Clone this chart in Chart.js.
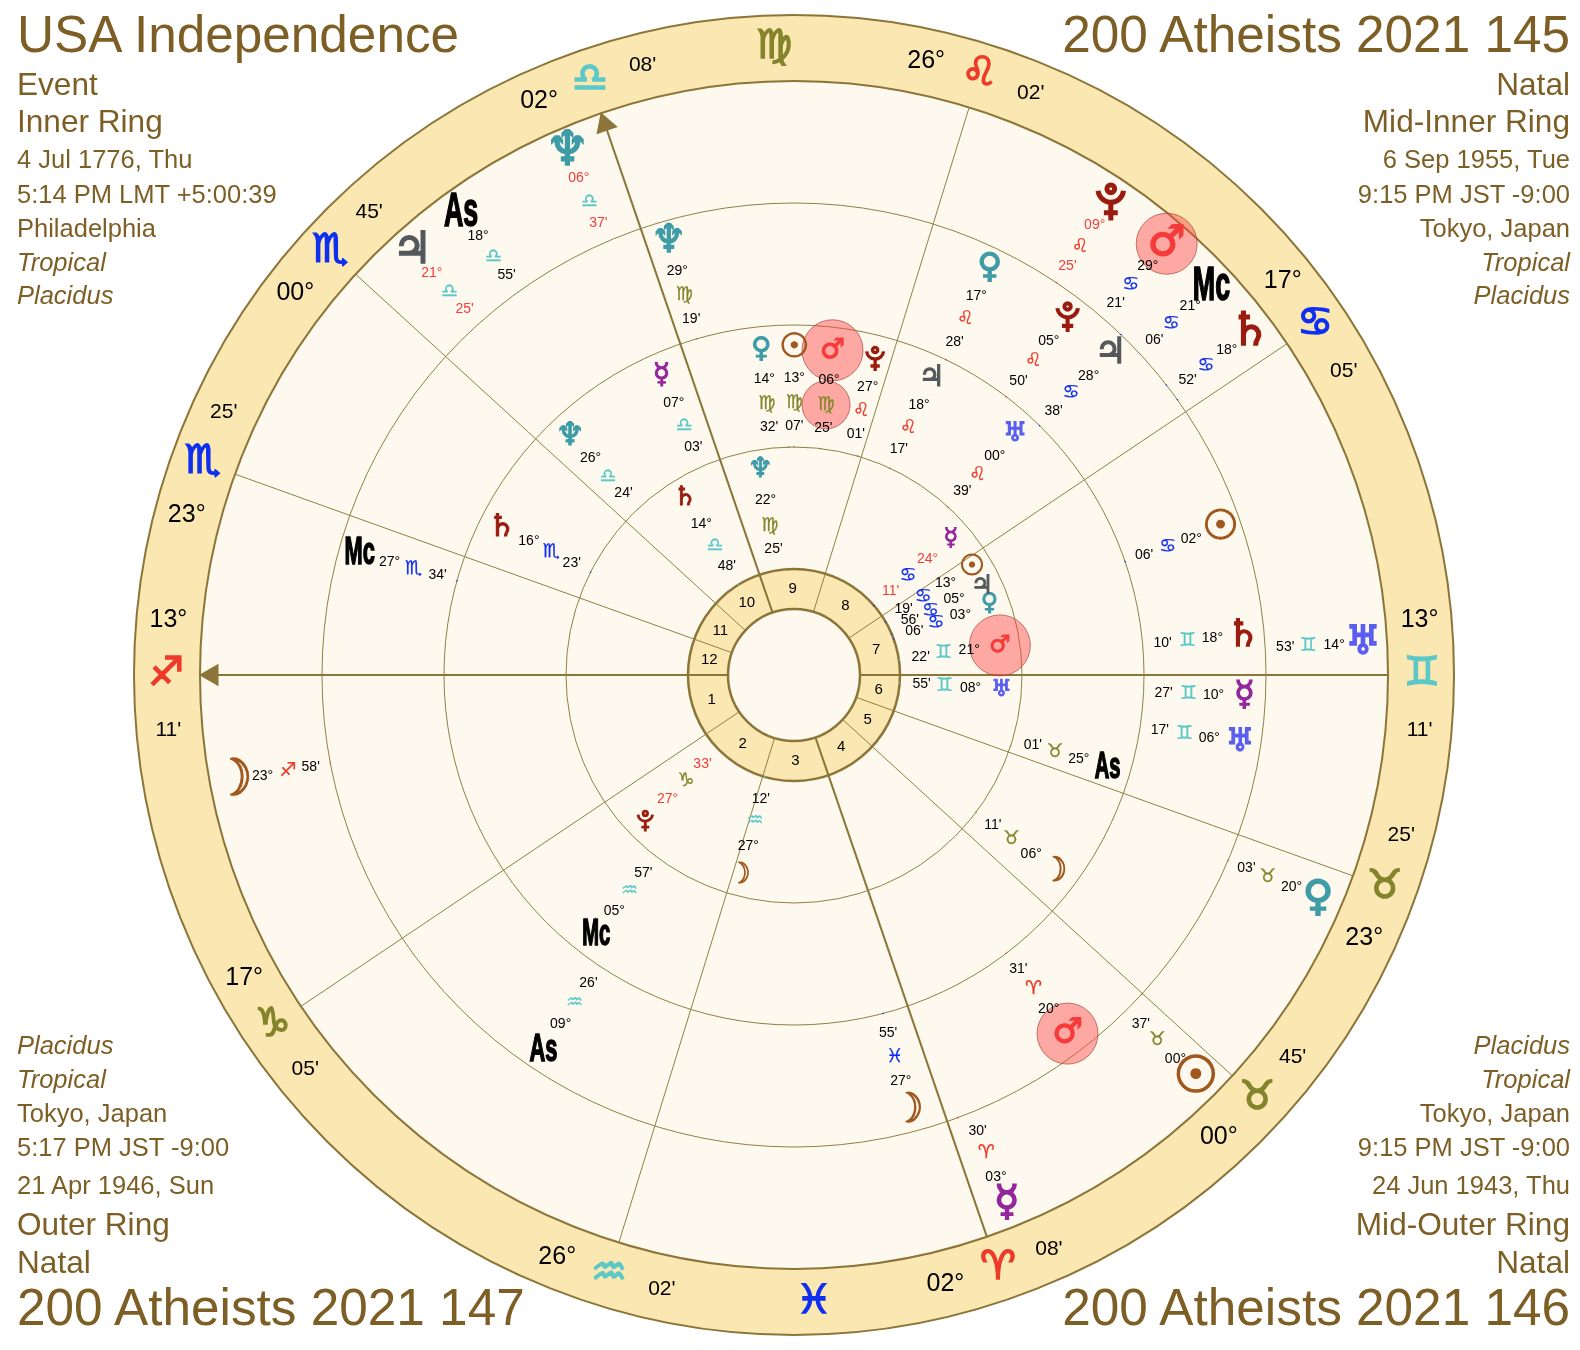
<!DOCTYPE html>
<html>
<head>
<meta charset="utf-8">
<title>USA Independence</title>
<script src="https://cdn.jsdelivr.net/npm/chart.js@4"></script>
<style>
  html, body { margin: 0; background: #fff; }
  #wrap { position: relative; width: 1580px; height: 1350px; overflow: hidden; }
  canvas { position: absolute; left: 0; top: 0; }
  .corner { position: absolute; line-height: 1; white-space: nowrap; color: #7d5f25; font-family: "Liberation Sans", sans-serif; }
</style>
</head>
<body>
<div id="wrap"><canvas id="wheel" width="1580" height="1350"></canvas></div>
<script>
// corner captions
const topLeftLines = ["USA Independence", "Event", "Inner Ring", "4 Jul 1776, Thu", "5:14 PM LMT +5:00:39", "Philadelphia", "Tropical", "Placidus"];
const topRightLines = ["200 Atheists 2021 145", "Natal", "Mid-Inner Ring", "6 Sep 1955, Tue", "9:15 PM JST -9:00", "Tokyo, Japan", "Tropical", "Placidus"];
const bottomLeftLines = ["Placidus", "Tropical", "Tokyo, Japan", "5:17 PM JST -9:00", "21 Apr 1946, Sun", "Outer Ring", "Natal", "200 Atheists 2021 147"];
const bottomRightLines = ["Placidus", "Tropical", "Tokyo, Japan", "9:15 PM JST -9:00", "24 Jun 1943, Thu", "Mid-Outer Ring", "Natal", "200 Atheists 2021 146"];

// house cusps 1..12
const cuspSigns = ["Sg", "Cp", "Aq", "Ar", "Ta", "Ta", "Gm", "Cn", "Le", "Li", "Sc", "Sc"];
const cuspDegrees = [13, 17, 26, 2, 0, 23, 13, 17, 26, 2, 0, 23];
const cuspMinutes = [11, 5, 2, 8, 45, 25, 11, 5, 2, 8, 45, 25];

// signs with no cusp in them, shown in the middle of the sign
const interceptedSigns = ["Vi", "Pi"];

// inner ring, USA Independence
const innerBodies = ["Su", "Mo", "Me", "Ve", "Ma", "Ju", "Sa", "Ur", "Ne", "Pl"];
const innerSigns = ["Cn", "Aq", "Cn", "Cn", "Gm", "Cn", "Li", "Gm", "Vi", "Cp"];
const innerDegrees = [13, 27, 24, 3, 21, 5, 14, 8, 22, 27];
const innerMinutes = [19, 12, 11, 6, 22, 56, 48, 55, 25, 33];
const innerRetro = ["Me", "Pl"];
const innerNudge = [1, 1, 0, 0, 0, 2.5, 0, 0, 0, 0];

// mid-inner ring, 6 Sep 1955
const midInnerBodies = ["Su", "Mo", "Me", "Ve", "Ma", "Ju", "Sa", "Ur", "Ne", "Pl", "Mc", "As"];
const midInnerSigns = ["Vi", "Ta", "Li", "Vi", "Vi", "Le", "Sc", "Le", "Li", "Le", "Aq", "Ta"];
const midInnerDegrees = [13, 6, 7, 14, 6, 18, 16, 0, 26, 27, 5, 25];
const midInnerMinutes = [7, 11, 3, 32, 25, 17, 23, 39, 24, 1, 57, 1];
const midInnerRetro = [];
const midInnerNudge = [0, 0, 0, 4.4, 0, 0, 0, 0, 0, 1.8, 0, 1.7];

// mid-outer ring, 24 Jun 1943
const midOuterBodies = ["Su", "Mo", "Me", "Ve", "Ma", "Ju", "Sa", "Ur", "Ne", "Pl", "Mc", "As"];
const midOuterSigns = ["Cn", "Pi", "Gm", "Le", "Ar", "Cn", "Gm", "Gm", "Vi", "Le", "Sc", "Aq"];
const midOuterDegrees = [2, 27, 10, 17, 20, 28, 18, 6, 29, 5, 27, 9];
const midOuterMinutes = [6, 55, 27, 28, 31, 38, 10, 17, 19, 50, 34, 26];
const midOuterRetro = [];
const midOuterNudge = [0, 0, 0, 0, 0, 0, 0, -1.7, 0, 0, 0, 0];

// outer ring, 21 Apr 1946
const outerBodies = ["Su", "Mo", "Me", "Ve", "Ma", "Ju", "Sa", "Ur", "Ne", "Pl", "Mc", "As"];
const outerSigns = ["Ta", "Sg", "Ar", "Ta", "Cn", "Li", "Cn", "Gm", "Li", "Le", "Cn", "Li"];
const outerDegrees = [0, 23, 3, 20, 29, 21, 18, 14, 6, 9, 21, 18];
const outerMinutes = [37, 58, 30, 3, 21, 25, 52, 53, 37, 25, 6, 55];
const outerRetro = ["Ju", "Ne", "Pl"];
const outerNudge = [-2.6, 0, 1.6, 0, 3, 3.8, 1.2, 1.5, 0, 0, 5, 0];

const signOrder = ["Ar", "Ta", "Gm", "Cn", "Le", "Vi", "Li", "Sc", "Sg", "Cp", "Aq", "Pi"];
const signGlyphs = { Ar: "\u2648", Ta: "\u2649", Gm: "\u264A", Cn: "\u264B", Le: "\u264C", Vi: "\u264D", Li: "\u264E", Sc: "\u264F", Sg: "\u2650", Cp: "\u2651", Aq: "\u2652", Pi: "\u2653" };
const signColors = { Ar: "#ee3a2a", Ta: "#84842c", Gm: "#5cc8c8", Cn: "#1030f0", Le: "#ee3a2a", Vi: "#84842c", Li: "#5cc8c8", Sc: "#1030f0", Sg: "#ee3a2a", Cp: "#84842c", Aq: "#5cc8c8", Pi: "#1030f0" };
const bodyGlyphs = { Su: "\u2609", Mo: "\u263D", Me: "\u263F", Ve: "\u2640", Ma: "\u2642", Ju: "\u2643", Sa: "\u2644", Ur: "\u2645", Ne: "\u2646", Pl: "\u2647", Mc: "Mc", As: "As" };
const bodyColors = { Su: "#a0581e", Mo: "#a0581e", Me: "#93279b", Ve: "#3f9ca7", Ma: "#f53b3b", Ju: "#55585c", Sa: "#9a1c10", Ur: "#5a5ff0", Ne: "#3f9ca7", Pl: "#9a1c10", Mc: "#000", As: "#000" };
const bodyScale = { Su: 1.2, Mo: 1.2, Me: 1, Ve: 1, Ma: 1, Ju: 1.05, Sa: 1.1, Ur: 0.95, Ne: 1.15, Pl: 1 };

const RING_LINE = "#8f8143";
const GOLD = "#8b7538";
const BAND = "#fbe7b1";
const PAPER = "#fef9ee";
const RETRO_RED = "#f53b3b";
const SYMBOL_FONT = "'DejaVu Sans'";
const TEXT_FONT = "'Liberation Sans'";

const ascendant = longitude("Sg", 13, 11);

function longitude(sign, deg, min) {
  return signOrder.indexOf(sign) * 30 + deg + min / 60;
}

// wheel angle in degrees, counter-clockwise from the right, ascendant on the left
function wheelAngle(lon) {
  return ((180 + lon - ascendant) % 360 + 360) % 360;
}

function polar(r, angle) {
  const a = (angle * Math.PI) / 180;
  return { x: r * Math.cos(a), y: r * Math.sin(a) };
}

const symbol = (s) => s + "\uFE0E";
const textMarks = [];
const tickMarks = [];
const haloMarks = [];

function addText(r, angle, text, color, font, extra) {
  textMarks.push({ ...polar(r, angle), text, color, font, ...extra });
}

function addRing(layout, bodies, signs, degrees, minutes, retro, nudge) {
  bodies.forEach((body, i) => {
    const trueAngle = wheelAngle(longitude(signs[i], degrees[i], minutes[i]));
    const angle = trueAngle + nudge[i];
    const labelColor = retro.includes(body) ? RETRO_RED : "#000";
    if (body === "Ma") {
      haloMarks.push({ ...polar(layout.glyph, angle), size: 30.5 });
      if (layout.signHalo) haloMarks.push({ ...polar(layout.sign, angle), size: 24 });
    }
    if (body === "Mc" || body === "As") {
      // tall squeezed lettering
      addText(layout.glyph, angle, bodyGlyphs[body], bodyColors[body], `bold ${layout.angleSize}px ${TEXT_FONT}`,
        { squeeze: 0.56, stroke: 1.6 });
    } else if (body === "Pl") {
      // the orb-and-cup pluto isn't in any installed font
      addText(layout.glyph, angle, "", bodyColors[body], "", { plutoSize: layout.glyphSize * 0.92 });
    } else {
      // bold neptune and jupiter clog up, the regular cut reads closer
      const weight = body === "Ne" || body === "Ju" ? "" : "bold ";
      addText(layout.glyph, angle, symbol(bodyGlyphs[body]), bodyColors[body],
        `${weight}${layout.glyphSize * bodyScale[body]}px ${SYMBOL_FONT}`,
        { stroke: layout.glyphSize * 0.04, squeeze: body === "Mo" ? 0.78 : 1 });
    }
    addText(layout.deg, angle, String(degrees[i]).padStart(2, "0") + "°", labelColor, `14px ${TEXT_FONT}`);
    addText(layout.sign, angle, symbol(signGlyphs[signs[i]]), signColors[signs[i]], `bold 19px ${SYMBOL_FONT}`, { stroke: 0.3 });
    addText(layout.min, angle, String(minutes[i]).padStart(2, "0") + "'", labelColor, `14px ${TEXT_FONT}`);
    tickMarks.push({ ...polar(layout.edge, trueAngle), color: signColors[signs[i]] });
  });
}

addRing({ glyph: 208, deg: 177, sign: 151, min: 128, edge: 106, glyphSize: 24 },
  innerBodies, innerSigns, innerDegrees, innerMinutes, innerRetro, innerNudge);
addRing({ glyph: 327, deg: 297, sign: 272, min: 249, edge: 228, glyphSize: 28, angleSize: 36, signHalo: true },
  midInnerBodies, midInnerSigns, midInnerDegrees, midInnerMinutes, midInnerRetro, midInnerNudge);
addRing({ glyph: 451, deg: 420, sign: 395, min: 370, edge: 350, glyphSize: 34, angleSize: 39 },
  midOuterBodies, midOuterSigns, midOuterDegrees, midOuterMinutes, midOuterRetro, midOuterNudge);
addRing({ glyph: 570, deg: 541, sign: 515, min: 492, edge: 472, glyphSize: 42, angleSize: 48 },
  outerBodies, outerSigns, outerDegrees, outerMinutes, outerRetro, outerNudge);

const cuspAngles = cuspSigns.map((s, i) => wheelAngle(longitude(s, cuspDegrees[i], cuspMinutes[i])));

cuspAngles.forEach((angle, i) => {
  const deg = String(cuspDegrees[i]).padStart(2, "0") + "°";
  const min = String(cuspMinutes[i]).padStart(2, "0") + "'";
  const side = angle < 180 ? 5 : -5;
  addText(628, angle + side, deg, "#000", `25px ${TEXT_FONT}`);
  addText(628, angle, symbol(signGlyphs[cuspSigns[i]]), signColors[cuspSigns[i]], `bold 40px ${SYMBOL_FONT}`, { stroke: 1.6 });
  addText(628, angle - side, min, "#000", `21px ${TEXT_FONT}`);
  // house number sits halfway to the next cusp
  const next = cuspAngles[(i + 1) % 12];
  const mid = angle + (((next - angle) % 360 + 360) % 360) / 2;
  addText(86, mid, String(i + 1), "#000", `15px ${TEXT_FONT}`);
});

interceptedSigns.forEach((s) => {
  addText(628, wheelAngle(longitude(s, 15, 0)), symbol(signGlyphs[s]), signColors[s], `bold 40px ${SYMBOL_FONT}`, { stroke: 1.6 });
});

function disc(r, fill, border, width) {
  return { data: [{ x: 0, y: 0 }], pointRadius: r, pointHitRadius: 0, pointBackgroundColor: fill, pointBorderColor: border, pointBorderWidth: width, clip: false };
}

// listed in paint order, chart.js paints the first dataset last so this gets reversed
const paintOrder = [
  disc(660, BAND, GOLD, 2),
  disc(594, PAPER, GOLD, 2),
  disc(472, "rgba(0,0,0,0)", RING_LINE, 1),
  disc(350, "rgba(0,0,0,0)", RING_LINE, 1),
  disc(228, "rgba(0,0,0,0)", RING_LINE, 1),
  disc(106, BAND, GOLD, 2.5),
];

cuspAngles.forEach((angle, i) => {
  paintOrder.push({
    data: [polar(66, angle), polar(594, angle)],
    showLine: true,
    borderColor: i % 3 === 0 ? GOLD : RING_LINE,
    borderWidth: i % 3 === 0 ? 2 : 1,
    pointRadius: 0,
  });
});

paintOrder.push(disc(66, PAPER, GOLD, 2.5));

// arrow heads on the ascendant and midheaven
[cuspAngles[0], cuspAngles[9]].forEach((angle) => {
  paintOrder.push({
    data: [polar(582, angle)],
    pointStyle: "triangle",
    pointRadius: 13,
    pointRotation: 90 - angle,
    pointBackgroundColor: GOLD,
    pointBorderColor: GOLD,
    pointBorderWidth: 0,
  });
});

paintOrder.push({
  data: tickMarks,
  pointRadius: 0.8,
  pointBorderWidth: 0,
  pointBackgroundColor: tickMarks.map((t) => t.color),
});
paintOrder.push({
  data: haloMarks,
  pointRadius: haloMarks.map((h) => h.size),
  pointBackgroundColor: "rgba(252,72,72,0.46)",
  pointBorderColor: "rgba(170,70,60,0.7)",
  pointBorderWidth: 1,
  clip: false,
});
paintOrder.push({ data: textMarks, pointRadius: 0, isTextLayer: true });

function drawPluto(ctx, x, y, h, color) {
  ctx.strokeStyle = color;
  ctx.fillStyle = color;
  ctx.lineWidth = h * 0.13;
  ctx.lineCap = "butt";
  ctx.beginPath();
  ctx.arc(x, y - h * 0.32, h * 0.1, 0, Math.PI * 2);
  ctx.stroke();
  ctx.beginPath();
  ctx.arc(x, y - h * 0.3, h * 0.33, 0.1, Math.PI - 0.1);
  ctx.stroke();
  ctx.beginPath();
  ctx.moveTo(x, y + h * 0.02);
  ctx.lineTo(x, y + h * 0.5);
  ctx.moveTo(x - h * 0.18, y + h * 0.3);
  ctx.lineTo(x + h * 0.18, y + h * 0.3);
  ctx.stroke();
}

const wheelText = {
  id: "wheelText",
  afterDatasetsDraw(chart) {
    const ctx = chart.ctx;
    chart.data.datasets.forEach((ds, idx) => {
      if (!ds.isTextLayer) return;
      const meta = chart.getDatasetMeta(idx);
      ds.data.forEach((mark, i) => {
        const { x, y } = meta.data[i];
        ctx.save();
        if (mark.plutoSize) {
          drawPluto(ctx, x, y, mark.plutoSize, mark.color);
          ctx.restore();
          return;
        }
        ctx.textAlign = "center";
        ctx.textBaseline = "middle";
        ctx.font = mark.font;
        ctx.fillStyle = mark.color;
        ctx.translate(x, y);
        if (mark.squeeze) ctx.scale(mark.squeeze, 1);
        ctx.fillText(mark.text, 0, 0);
        if (mark.stroke) {
          ctx.strokeStyle = mark.color;
          ctx.lineWidth = mark.stroke;
          ctx.strokeText(mark.text, 0, 0);
        }
        ctx.restore();
      });
    });
  },
};

new Chart(document.getElementById("wheel"), {
  type: "scatter",
  data: { datasets: paintOrder.reverse() },
  plugins: [wheelText],
  options: {
    responsive: false,
    animation: false,
    events: [],
    // the big discs would otherwise push the plot area in by their radius
    layout: { padding: 0, autoPadding: false },
    plugins: { legend: { display: false }, tooltip: { enabled: false } },
    scales: {
      x: { type: "linear", display: false, min: -794, max: 786 },
      y: { type: "linear", display: false, min: -675, max: 675 },
    },
  },
});

// captions are plain page text, each block shares the same line rhythm
const wrap = document.getElementById("wrap");
const topBaselines = [52, 96, 133, 169, 204, 238, 272, 305];
const topSizes = [51.3, 31.6, 31.6, 25.5, 25.5, 25.5, 25.5, 25.5];
const bottomBaselines = [1055, 1089, 1123, 1157, 1195, 1236, 1274, 1325];
const bottomSizes = [25.5, 25.5, 25.5, 25.5, 25.5, 31.6, 31.6, 51.3];

function addCorner(lines, baselines, sizes, alignRight) {
  lines.forEach((line, i) => {
    const el = document.createElement("div");
    el.className = "corner";
    el.innerText = line;
    el.style.fontSize = sizes[i] + "px";
    el.style.top = baselines[i] - sizes[i] * 0.8465 + "px";
    if (line === "Tropical" || line === "Placidus") el.style.fontStyle = "italic";
    if (alignRight) el.style.right = "10px";
    else el.style.left = "17px";
    wrap.appendChild(el);
  });
}

addCorner(topLeftLines, topBaselines, topSizes, false);
addCorner(topRightLines, topBaselines, topSizes, true);
addCorner(bottomLeftLines, bottomBaselines, bottomSizes, false);
addCorner(bottomRightLines, bottomBaselines, bottomSizes, true);
</script>
</body>
</html>
